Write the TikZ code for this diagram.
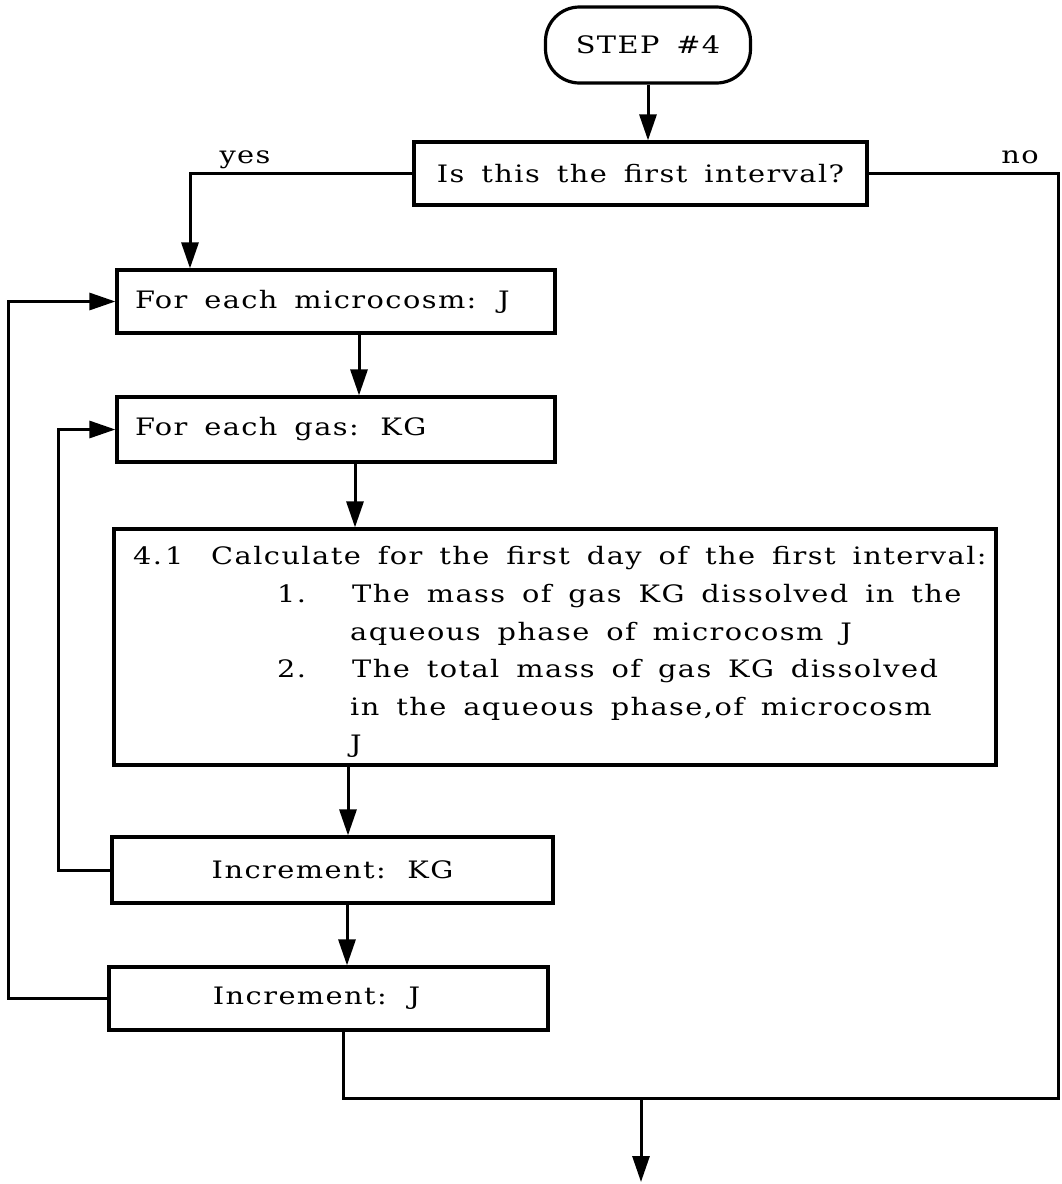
\documentclass[tikz,border=0pt]{standalone}
\usepackage{fontspec}
\setmainfont{DejaVu Serif}
\newfontfamily\tw{DejaVu Serif}[FakeStretch=1.2,LetterSpace=6.0,WordSpace=1.6]
\usetikzlibrary{arrows.meta,calc}
\begin{document}
\begin{tikzpicture}[x=1pt,y=-1pt,
  box/.style={draw,line width=3.2pt,inner sep=0pt,font=\tw\fontsize{24}{29}\selectfont},
  txt/.style={inner sep=0pt,font=\tw\fontsize{24}{29}\selectfont},
  arr/.style={line width=3pt,-{Triangle[length=26pt,width=17pt]}},
  ln/.style={line width=3pt}]
\useasboundingbox (0,0) rectangle (1061,1184);
% boxes
\node[box,rounded corners=34pt,minimum width=205pt,minimum height=76pt] (start) at (648,45) {STEP \#4};
\node[box,minimum width=453pt,minimum height=63pt] (dec) at (640.5,173.5) {Is this the first interval?};
\node[box,minimum width=438pt,minimum height=63pt] (mic) at (336,301.5) {\makebox[402pt][l]{For each microcosm:\hspace{0.9em}J}};
\node[box,minimum width=438pt,minimum height=65pt] (gas) at (336,429.5) {\makebox[402pt][l]{For each gas:\hspace{0.9em}KG}};
\node[box,minimum width=882pt,minimum height=236pt] (calc) at (555,647) {};
\node[box,minimum width=441pt,minimum height=66pt] (ikg) at (332.5,870) {Increment:\hspace{0.9em}KG};
\node[box,minimum width=439pt,minimum height=63pt] (ij) at (328.5,998.5) {\hspace{-24pt}Increment:\hspace{0.9em}J};
% text in the calculation box
\node[txt,anchor=base west] (t1a) at (133,564) {4.\hspace{3pt}1};
\node[txt,anchor=base west] (t1b) at (211,564) {Calculate for the first day of the first interval:};
\node[txt,anchor=base west] (n1) at (277,602) {1.};
\node[txt,anchor=base west] (t2) at (352,602) {The mass of gas\hspace{0.7em}KG\hspace{0.7em}dissolved in the};
\node[txt,anchor=base west] (t3) at (350,640) {aqueous phase of microcosm\hspace{0.7em}J};
\node[txt,anchor=base west] (n2) at (277,677) {2.};
\node[txt,anchor=base west] (t4) at (352,677) {The total mass of gas\hspace{0.7em}KG\hspace{0.7em}dissolved};
\node[txt,anchor=base west] (t5) at (350,715) {in the aqueous phase,of microcosm};
\node[txt,anchor=base west] (t6) at (350,752) {J};
% labels
\node[txt,anchor=base] (yes) at (245,163) {yes};
\node[txt,anchor=base] (no) at (1020,163) {no};
% helper coordinates
\coordinate (yx) at (190,0);
\coordinate (rx) at (1058,1098);
\coordinate (jn) at (641,1098);
\coordinate (endp) at (641,1182);
\coordinate (bx) at (343,0);
\coordinate (c1) at (359,0);
\coordinate (c2) at (355,0);
\coordinate (c3) at (348,0);
\coordinate (c4) at (347,0);
\coordinate (l1) at (8,0);
\coordinate (l2) at (58,0);
% connectors
\draw[arr] (start.south) -- (start.south |- dec.north);
\draw[arr] (dec.west) -| (yx |- mic.north);
\draw[ln] (dec.east) -| (rx) -| (ij.south -| bx);
\draw[arr] (jn) -- (endp);
\draw[arr] (mic.south -| c1) -- (gas.north -| c1);
\draw[arr] (gas.south -| c2) -- (calc.north -| c2);
\draw[arr] (calc.south -| c3) -- (ikg.north -| c3);
\draw[arr] (ikg.south -| c4) -- (ij.north -| c4);
\draw[arr] (ikg.west) -- (ikg.west -| l2) |- (gas.west);
\draw[arr] (ij.west) -- (ij.west -| l1) |- (mic.west);
\end{tikzpicture}
\end{document}
